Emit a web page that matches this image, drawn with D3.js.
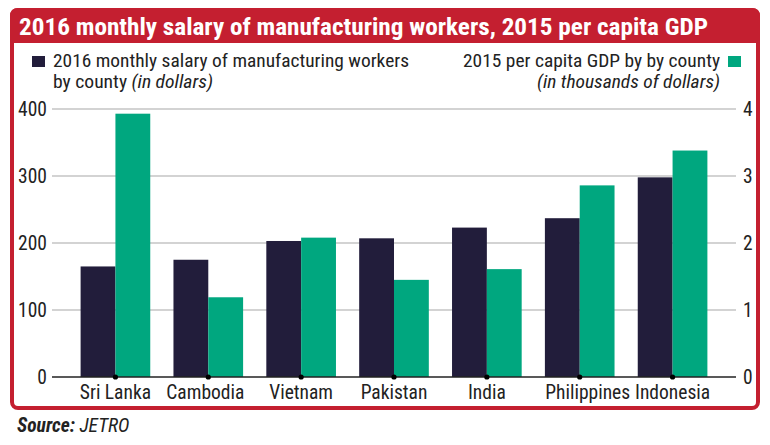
<!DOCTYPE html>
<html><head><meta charset="utf-8">
<script src="https://cdn.jsdelivr.net/npm/d3@7"></script>
<style>
body{margin:0;background:#fff;}
text{font-family:"Liberation Sans Narrow","Roboto Condensed","DejaVu Sans Condensed",sans-serif;}
</style></head>
<body><svg id="c" width="770" height="445"></svg>
<script>
const countries = ["Sri Lanka","Cambodia","Vietnam","Pakistan","India","Philippines","Indonesia"];
const salary = [165,175,203,207,223,237,298];
const gdp = [3.93,1.19,2.08,1.45,1.61,2.86,3.38];
const leftTicks = [0,100,200,300,400];
const rightTicks = [0,1,2,3,4];
const title = "2016 monthly salary of manufacturing workers, 2015 per capita GDP";

const red = "#c41f30", dark = "#221d3b", green = "#00a77f";
const svg = d3.select("#c");

// frame
svg.append("rect").attr("x",12).attr("y",10).attr("width",746).attr("height",398)
  .attr("rx",6).attr("fill","#fff").attr("stroke",red).attr("stroke-width",4);
svg.append("path").attr("d","M10,43 L10,16 Q10,8 18,8 L752,8 Q760,8 760,16 L760,43 Z").attr("fill",red);
svg.append("text").attr("x",19).attr("y",35).attr("fill","#fff").attr("font-weight","bold")
  .attr("font-size",24).attr("textLength",689).attr("lengthAdjust","spacingAndGlyphs").text(title);

const x = d3.scaleBand().domain(countries).range([69,719]).paddingInner(0.25).paddingOuter(0.125);
const yL = d3.scaleLinear().domain([0,400]).range([377,109]);
const yR = d3.scaleLinear().domain([0,4]).range([377,109]);
const bw = x.bandwidth()/2;

// grid
const g = svg.append("g");
g.selectAll("line.grid").data(leftTicks.filter(d=>d>0)).join("line")
  .attr("x1",52).attr("x2",736).attr("y1",d=>yL(d)).attr("y2",d=>yL(d))
  .attr("stroke","#a8a8a8").attr("stroke-width",1.2);

// bars
g.selectAll("rect.s").data(countries).join("rect")
  .attr("x",d=>x(d)).attr("width",bw)
  .attr("y",(d,i)=>yL(salary[i])).attr("height",(d,i)=>yL(0)-yL(salary[i])).attr("fill",dark);
g.selectAll("rect.g").data(countries).join("rect")
  .attr("x",d=>x(d)+bw).attr("width",bw)
  .attr("y",(d,i)=>yR(gdp[i])).attr("height",(d,i)=>yR(0)-yR(gdp[i])).attr("fill",green);

// baseline
g.append("line").attr("x1",52).attr("x2",736).attr("y1",yL(0)).attr("y2",yL(0))
  .attr("stroke","#222").attr("stroke-width",1.5);
g.selectAll("circle").data(countries).join("circle")
  .attr("cx",d=>x(d)+bw).attr("cy",yL(0)).attr("r",2.6).attr("fill","#000");

// axes labels
const axL = svg.append("g").attr("transform","translate(52,0)")
  .call(d3.axisLeft(yL).tickValues(leftTicks).tickSize(0).tickPadding(5));
const axR = svg.append("g").attr("transform","translate(736,0)")
  .call(d3.axisRight(yR).tickValues(rightTicks).tickFormat(d3.format("d")).tickSize(0).tickPadding(7));
const axB = svg.append("g").attr("transform","translate(0,377)")
  .call(d3.axisBottom(x).tickSize(0).tickPadding(8));
[axL,axR,axB].forEach(a=>{
  a.select(".domain").remove();
  a.selectAll("text").attr("font-size",19.5).attr("fill","#222")
   .style("font-family",'"Liberation Sans Narrow","Roboto Condensed",sans-serif');
});
axB.selectAll("text").attr("dy","0.75em").attr("y",7)
  .attr("dx",d=>d==="Philippines"?8:(d==="Cambodia"?-3:0));

// legends
const lf = 19;
svg.append("rect").attr("x",32).attr("y",56).attr("width",13).attr("height",11).attr("fill",dark);
svg.append("text").attr("x",53).attr("y",67).attr("font-size",lf).attr("fill","#222")
  .attr("textLength",356).attr("lengthAdjust","spacingAndGlyphs")
  .text("2016 monthly salary of manufacturing workers");
const l2 = svg.append("text").attr("x",53).attr("y",88).attr("font-size",lf).attr("fill","#222")
  .attr("textLength",160).attr("lengthAdjust","spacingAndGlyphs");
l2.append("tspan").text("by county ");
l2.append("tspan").attr("font-style","italic").text("(in dollars)");

svg.append("rect").attr("x",728).attr("y",56).attr("width",13).attr("height",11).attr("fill",green);
svg.append("text").attr("x",720).attr("y",67).attr("text-anchor","end").attr("font-size",lf).attr("fill","#222")
  .attr("textLength",257).attr("lengthAdjust","spacingAndGlyphs")
  .text("2015 per capita GDP by by county");
svg.append("text").attr("x",720).attr("y",88).attr("text-anchor","end").attr("font-size",lf).attr("fill","#222")
  .attr("textLength",183).attr("lengthAdjust","spacingAndGlyphs")
  .attr("font-style","italic").text("(in thousands of dollars)");

// source
const src = svg.append("text").attr("x",17).attr("y",432).attr("font-size",19.5).attr("fill","#222").attr("font-style","italic");
src.append("tspan").attr("font-weight","bold").text("Source:");
src.append("tspan").text(" JETRO");
</script></body></html>
